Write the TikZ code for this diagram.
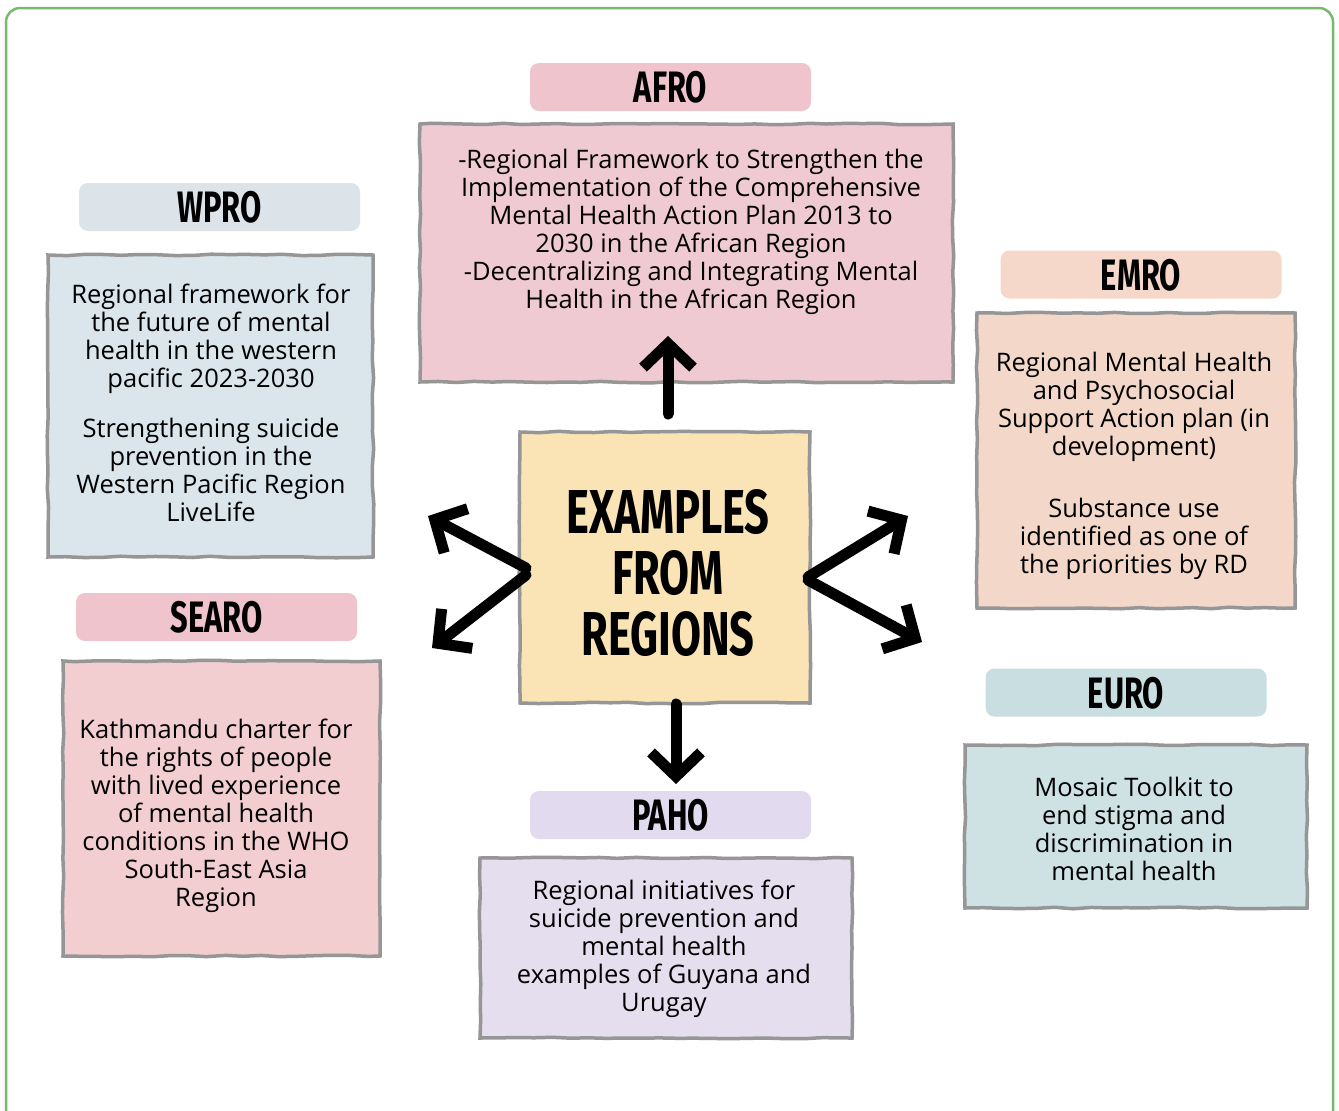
\documentclass[tikz,border=0pt]{standalone}
\usepackage{fontspec}
\setmainfont{Open Sans}
\newfontfamily\headfont{Fira Sans}[FakeStretch=0.7]
\usetikzlibrary{arrows.meta,decorations.pathmorphing}
\definecolor{frameG}{RGB}{120,185,110}
\definecolor{wproL}{RGB}{220,228,234}
\definecolor{wproB}{RGB}{218,229,236}
\definecolor{afroL}{RGB}{240,196,204}
\definecolor{afroB}{RGB}{240,202,210}
\definecolor{emroL}{RGB}{246,216,202}
\definecolor{emroB}{RGB}{243,216,202}
\definecolor{searoB}{RGB}{242,206,208}
\definecolor{centerB}{RGB}{250,228,182}
\definecolor{pahoL}{RGB}{226,218,238}
\definecolor{pahoB}{RGB}{228,222,238}
\definecolor{euroL}{RGB}{200,222,224}
\definecolor{euroB}{RGB}{206,226,228}
\definecolor{sketch}{RGB}{150,150,150}
\begin{document}
\begin{tikzpicture}[x=1pt,y=-1pt,
  headlabel/.style={rounded corners=9pt, fill=#1, draw=none, inner sep=0pt,
    minimum width=281pt, minimum height=48pt, text depth=0pt,
    font=\headfont\bfseries\fontsize{44}{44}\selectfont},
  textbox/.style={fill=#1, draw=sketch, line width=3.5pt, inner sep=0pt,
    decorate, decoration={random steps, segment length=18pt, amplitude=0.8pt}},
  bodytext/.style={align=center, inner sep=0pt,
    font=\fontsize{25.5}{28}\selectfont},
  bigarrow/.style={line width=11pt, line cap=round, line join=round,
    -{Straight Barb[length=24pt, width=50pt, line width=11pt]}}
]
\useasboundingbox (0,0) rectangle (1339,1111);
\fill[white] (0,0) rectangle (1339,1111);
% outer frame (bottom edge cut off)
\draw[frameG, line width=2.5pt, rounded corners=14pt]
  (6,1125) -- (6,8) -- (1333,8) -- (1333,1125);

% WPRO
\node[headlabel=wproL] (wproL) at (219.5,207) {WPRO};
\node[textbox=wproB, minimum width=325pt, minimum height=302pt] (wproB) at (210.5,406) {};
\node[bodytext] (wproT) at (211,403) {Regional framework for\\the future of mental\\health in the western\\pacific 2023-2030\\[22pt]Strengthening suicide\\prevention in the\\Western Pacific Region\\LiveLife};

% AFRO
\node[headlabel=afroL] (afroL) at (670.5,87) {AFRO};
\node[textbox=afroB, minimum width=533pt, minimum height=258pt] (afroB) at (686.5,253) {};
\node[bodytext] (afroT) at (691,232) {-Regional Framework to Strengthen the\\Implementation of the Comprehensive\\Mental Health Action Plan 2013 to\\2030 in the African Region\\-Decentralizing and Integrating Mental\\Health in the African Region};

% EMRO
\node[headlabel=emroL] (emroL) at (1141,274.5) {EMRO};
\node[textbox=emroB, minimum width=318pt, minimum height=295pt] (emroB) at (1136,460.5) {};
\node[bodytext] (emroT) at (1134,466) {Regional Mental Health\\and Psychosocial\\Support Action plan (in\\development)\\[34pt]Substance use\\identified as one of\\the priorities by RD};

% SEARO
\node[headlabel=afroL] (searoL) at (216.5,617) {SEARO};
\node[textbox=searoB, minimum width=317pt, minimum height=295pt] (searoB) at (221.5,808.5) {};
\node[bodytext] (searoT) at (216,816) {Kathmandu charter for\\the rights of people\\with lived experience\\of mental health\\conditions in the WHO\\South-East Asia\\Region};

% CENTER
\node[textbox=centerB, minimum width=290pt, minimum height=271pt] (center) at (665,567.5) {};
\node[align=center, inner sep=0pt, font=\headfont\bfseries\fontsize{62}{61}\selectfont] (centerT) at (668,573)
  {EXAMPLES\\FROM\\REGIONS};

% PAHO
\node[headlabel=pahoL] (pahoL) at (670.5,815) {PAHO};
\node[textbox=pahoB, minimum width=372pt, minimum height=180pt] (pahoB) at (666,948) {};
\node[bodytext] (pahoT) at (664,949) {Regional initiatives for\\suicide prevention and\\mental health\\examples of Guyana and\\Urugay};

% EURO
\node[headlabel=euroL] (euroL) at (1126,692.5) {EURO};
\node[textbox=euroB, minimum width=342pt, minimum height=163pt] (euroB) at (1136,826.5) {};
\node[bodytext] (euroT) at (1134,829) {Mosaic Toolkit to\\end stigma and\\discrimination in\\mental health};

% arrows
\coordinate (aUs) at (668,414);
\coordinate (aUe) at (668,336);
\coordinate (aDs) at (676,704);
\coordinate (aDe) at (676,784);
\coordinate (aLUs) at (526,568);
\coordinate (aLUe) at (428,516);
\coordinate (aLDs) at (526,575);
\coordinate (aLDe) at (432,648);
\coordinate (aRUs) at (808,577);
\coordinate (aRUe) at (908,516);
\coordinate (aRDs) at (808,580);
\coordinate (aRDe) at (922,642);
\draw[bigarrow] (aUs) -- (aUe);
\draw[bigarrow] (aDs) -- (aDe);
\draw[bigarrow] (aLUs) -- (aLUe);
\draw[bigarrow] (aLDs) -- (aLDe);
\draw[bigarrow] (aRUs) -- (aRUe);
\draw[bigarrow] (aRDs) -- (aRDe);
\end{tikzpicture}
\end{document}
